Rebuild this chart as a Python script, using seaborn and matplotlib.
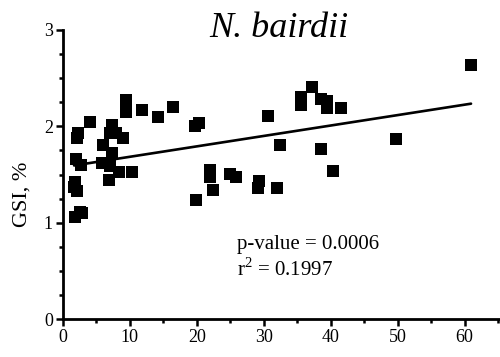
import matplotlib
matplotlib.use("Agg")
import matplotlib.pyplot as plt
from matplotlib.ticker import MultipleLocator
import seaborn as sns
import pandas as pd

# Age (x) and gonadosomatic index (y) of individual fish
age = [60.95, 19.8, 20.3, 30.7, 37.2, 35.5, 35.5, 38.5, 39.4, 39.5, 41.6,
       32.4, 38.5, 49.8, 40.4, 22.0, 22.0, 22.5, 19.9, 25.0, 25.9, 29.3,
       29.2, 32.0, 9.5, 9.5, 11.8, 14.2, 16.4, 4.1, 2.3, 2.2, 7.4, 7.0,
       8.0, 9.0, 6.0, 7.3, 2.0, 2.8, 5.8, 7.0, 8.4, 10.3, 6.9, 1.8, 1.7,
       2.1, 2.6, 1.8, 2.9]
gsi = [2.64, 2.00, 2.03, 2.11, 2.41, 2.30, 2.22, 2.28, 2.26, 2.19, 2.19,
       1.81, 1.76, 1.87, 1.54, 1.55, 1.47, 1.34, 1.24, 1.51, 1.47, 1.43,
       1.36, 1.36, 2.27, 2.15, 2.17, 2.10, 2.20, 2.04, 1.93, 1.88, 2.01,
       1.93, 1.93, 1.88, 1.81, 1.72, 1.66, 1.60, 1.62, 1.59, 1.53, 1.53,
       1.44, 1.42, 1.37, 1.33, 1.11, 1.06, 1.10]

species = "N. bairdii"
stats_lines = ["p-value = 0.0006", r"r$^{2}$ = 0.1997"]
x_ticks = [0, 10, 20, 30, 40, 50, 60]
y_ticks = [0, 1, 2, 3]

df = pd.DataFrame({"age": age, "gsi": gsi})

sns.set_theme(style="ticks")
plt.rcParams["font.family"] = ["Liberation Serif", "DejaVu Serif"]
plt.rcParams["mathtext.fontset"] = "custom"
plt.rcParams["mathtext.rm"] = "Liberation Serif"

fig = plt.figure(figsize=(5.0, 3.57), dpi=100)
ax = fig.add_axes([0.1254, 0.1064, 0.8736, 0.8096])

sns.regplot(data=df, x="age", y="gsi", ax=ax, scatter=False, ci=None,
            truncate=True, line_kws={"color": "black", "lw": 1.9})
sns.scatterplot(data=df, x="age", y="gsi", ax=ax, marker="s", s=80,
                color="black", linewidth=0, zorder=3)

ax.set_xlim(0, 65.2)
ax.set_ylim(0, 3)
ax.set_xticks(x_ticks)
ax.set_yticks(y_ticks)
ax.xaxis.set_minor_locator(MultipleLocator(5))
ax.yaxis.set_minor_locator(MultipleLocator(0.25))
ax.tick_params(which="major", length=5, width=1.8, labelsize=13, color="black",
               labelcolor="black", pad=2)
ax.tick_params(which="minor", length=3, width=1.8, color="black")
ax.set_xlabel("")
ax.set_ylabel("GSI, %", fontsize=16, color="black")
ax.yaxis.set_label_coords(-0.072, 0.43)

for side in ["top", "right"]:
    ax.spines[side].set_visible(False)
for side in ["left", "bottom"]:
    ax.spines[side].set_linewidth(2.0)
    ax.spines[side].set_color("black")

ax.text(0.495, 0.975, species, transform=ax.transAxes, ha="center",
        va="baseline", fontsize=26, style="italic", color="black")
ax.text(26.0, 0.77, stats_lines[0], fontsize=15, va="center", ha="left",
        color="black")
ax.text(26.0, 0.51, stats_lines[1], fontsize=15, va="center", ha="left",
        color="black")

fig.savefig("out.png", dpi=100)
